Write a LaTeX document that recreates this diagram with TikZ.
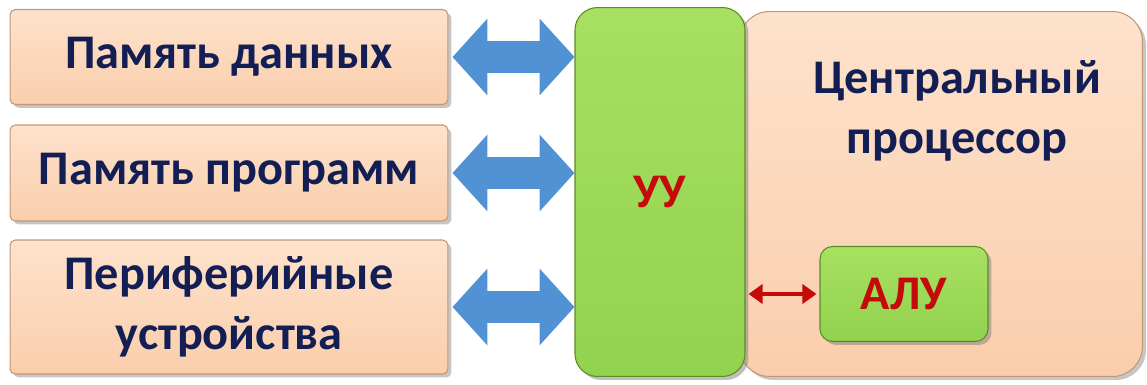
\documentclass[tikz,border=0pt]{standalone}
\usepackage{fontspec}
\setmainfont{Carlito}
\usetikzlibrary{arrows.meta,shadows}

\definecolor{peach}{RGB}{250,206,172}
\definecolor{peachlight}{RGB}{253,226,204}
\definecolor{peachedge}{RGB}{196,150,118}
\definecolor{leaf}{RGB}{146,210,78}
\definecolor{leaflight}{RGB}{168,224,98}
\definecolor{leafedge}{RGB}{90,140,36}
\definecolor{busblue}{RGB}{80,146,212}
\definecolor{navy}{RGB}{18,30,84}
\definecolor{darkred}{RGB}{196,10,10}

\tikzset{
    unitbox/.style={rectangle, rounded corners=3pt, draw=peachedge, line width=0.6pt,
        top color=peachlight, bottom color=peach, minimum width=8.76cm,
        drop shadow={shadow xshift=0.07cm, shadow yshift=-0.07cm, opacity=0.45},
        font=\fontsize{27.5}{34}\selectfont\bfseries, text=navy, align=center},
    corebox/.style={rectangle, draw=leafedge, line width=0.6pt,
        top color=leaflight, bottom color=leaf,
        drop shadow={shadow xshift=0.07cm, shadow yshift=-0.07cm, opacity=0.5},
        font=\fontsize{27.5}{34}\selectfont\bfseries, text=darkred},
    bus/.style={busblue, line width=0.66cm,
        {Triangle[length=0.7cm, width=1.5cm]}-{Triangle[length=0.7cm, width=1.5cm]}},
    aluarrow/.style={darkred, line width=0.08cm,
        {Triangle[length=0.28cm, width=0.38cm]}-{Triangle[length=0.28cm, width=0.38cm]}}
}

\begin{document}
\begin{tikzpicture}[x=0.02cm, y=-0.02cm]
    \useasboundingbox (0,0) rectangle (1147,385);

    % external units
    \node[unitbox, minimum height=1.9cm] (datamem) at (229,57) {Память данных};
    \node[unitbox, minimum height=1.92cm] (progmem) at (229,173) {Память программ};
    \node[unitbox, minimum height=2.68cm] (periph) at (229,307) {Периферийные\\устройства};

    % central processor
    \node[unitbox, rounded corners=0.6cm, minimum width=8.06cm, minimum height=7.3cm] (cpu) at (941,194) {};
    \node[font=\fontsize{27.5}{34}\selectfont\bfseries, text=navy, align=center] (cputext) at (957,111) {Центральный\\процессор};

    % control unit and ALU
    \node[corebox, rounded corners=0.45cm, minimum width=3.4cm, minimum height=7.38cm] (cu) at (660,192) {УУ};
    \node[corebox, rounded corners=0.25cm, minimum width=3.36cm, minimum height=1.9cm] (alu) at (904,294) {АЛУ};

    % buses
    \draw[bus, shorten <=0.08cm] (datamem.east) -- (datamem.east -| cu.west);
    \draw[bus, shorten <=0.08cm] (progmem.east) -- (progmem.east -| cu.west);
    \draw[bus, shorten <=0.08cm] (periph.east) -- (periph.east -| cu.west);
    \draw[aluarrow, shorten <=0.06cm, shorten >=0.06cm] (alu.west -| cu.east) -- (alu.west);
\end{tikzpicture}
\end{document}
